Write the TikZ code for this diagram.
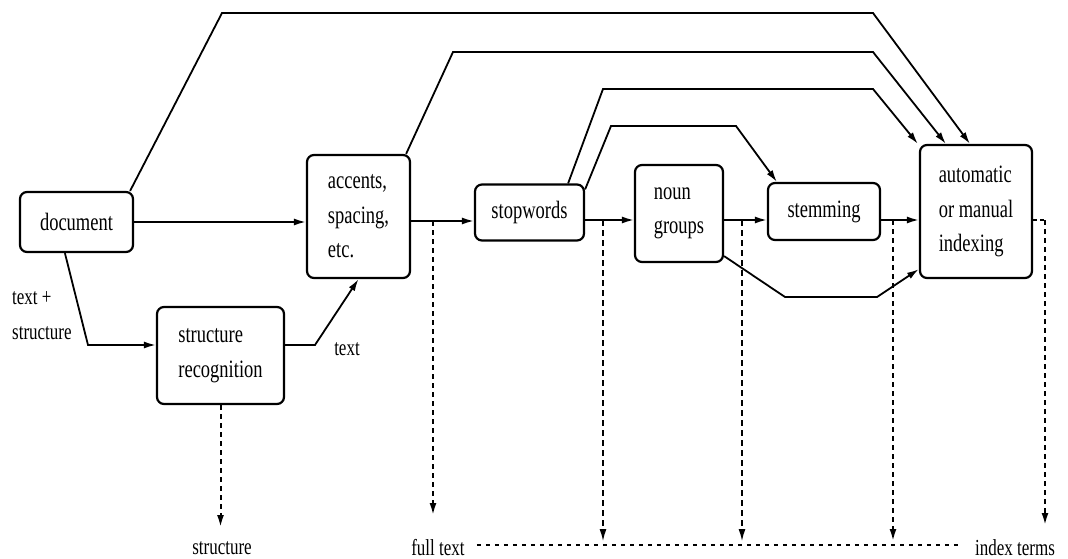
\documentclass[tikz,border=0pt]{standalone}
\usepackage{fontspec}
\setmainfont{Liberation Serif}
\usetikzlibrary{arrows.meta,calc}
\newcommand{\vt}[1]{\scalebox{1}[1.35]{#1}}
\begin{document}
\begin{tikzpicture}[x=1pt,y=-1pt,
 box/.style={draw,line width=2.2pt,rounded corners=7pt,inner sep=0pt,align=left,font=\fontsize{18.5}{34.5}\selectfont},
 conn/.style={line width=1.8pt},
 arr/.style={conn,-{Latex[length=12pt,width=7pt]}},
 dsh/.style={line width=2pt,dash pattern=on 5pt off 4pt,-{Latex[length=12pt,width=7pt]}},
 dshthin/.style={line width=1.3pt,dash pattern=on 6pt off 4pt,-{Latex[length=12pt,width=7pt]}},
 dotline/.style={line width=2pt,dash pattern=on 4pt off 5pt},
 lbl/.style={font=\fontsize{17}{35}\selectfont,inner sep=0pt}]
\useasboundingbox (0,0) rectangle (1068,559);

% boxes
\node[box,minimum width=113pt,minimum height=60pt] (doc) at (76.5,222) {\vt{document}};
\node[box,minimum width=103pt,minimum height=123pt] (acc) at (358.5,216.5) {\vt{accents,}\\\vt{spacing,}\\\vt{etc.}};
\node[box,minimum width=109pt,minimum height=56pt] (stop) at (529.5,212.5) {\vt{stopwords}};
\node[box,minimum width=88pt,minimum height=97pt] (noun) at (679,213.5) {\vt{noun}\\\vt{groups}};
\node[box,minimum width=112pt,minimum height=57pt] (stem) at (824,211.5) {\vt{stemming}};
\node[box,minimum width=112pt,minimum height=133pt] (auto) at (976,211.5) {\vt{automatic}\\\vt{or manual}\\\vt{indexing}};
\node[box,minimum width=127pt,minimum height=97pt] (sr) at (220.5,355.5) {\vt{structure}\\\vt{recognition}};

% labels
\node[lbl,align=left,anchor=west] (ts) at (12,316) {\vt{text +}\\\vt{structure}};
\node[lbl] (tx) at (347,349) {\vt{text}};
\node[lbl] (os) at (222,548) {\vt{structure}};
\node[lbl] (ft) at (438,548) {\vt{full text}};
\node[lbl] (it) at (1015,548) {\vt{index terms}};

% helper coordinates
\coordinate (f) at (0,221);
\coordinate (g) at (0,220);
\coordinate (h) at (0,345);
\coordinate (d1) at (433,221);
\coordinate (d1e) at (433,515);
\coordinate (d2) at (603,220);
\coordinate (d2e) at (603,541);
\coordinate (d3) at (742,220);
\coordinate (d3e) at (742,541);
\coordinate (d4) at (893,220);
\coordinate (d4e) at (893,541);
\coordinate (d5) at (1045,220);
\coordinate (d5e) at (1045,525);
\coordinate (se) at (220.5,527);

% main flow
\draw[arr] (doc.east) -- (doc.east -| acc.west);
\draw[arr] (acc.east |- f) -- (stop.west |- f);
\draw[arr] (stop.east |- g) -- (noun.west |- g);
\draw[arr] (noun.east |- g) -- (stem.west |- g);
\draw[arr] (stem.east |- g) -- (auto.west |- g);

% bypass lines over the top
\draw[arr] ($(doc.north east)+(-4,0)$) -- (222,13) -- (873,13) -- ($(auto.north)+(-6,0)$);
\draw[arr] ($(acc.north east)+(-5,0)$) -- (453,52) -- (873,52) -- ($(auto.north west)+(27,0)$);
\draw[arr] ($(stop.north east)+(-17,0)$) -- (603,89) -- (873,89) -- ($(auto.north west)+(-1,0)$);
\draw[arr] ($(stop.north east)+(0,6)$) -- (611,126) -- (736,126) -- ($(stem.north west)+(10,0)$);
\draw[arr] ($(noun.south east)+(0,-7)$) -- (785,297) -- (877,297) -- ($(auto.south west)+(0,-10)$);

% lower path
\draw[arr] ($(doc.south west)+(46,0)$) -- (88,345) -- (sr.west |- h);
\draw[arr] (sr.east |- h) -- (315,345) -- (acc.south);

% dashed outputs
\draw[dsh] (sr.south) -- (se);
\draw[dsh] (d1) -- (d1e);
\draw[dshthin] (d2) -- (d2e);
\draw[dshthin] (d3) -- (d3e);
\draw[dsh] (d4) -- (d4e);
\draw[conn,dash pattern=on 4pt off 3pt] (auto.east |- g) -- (d5);
\draw[dsh] (d5) -- (d5e);

% dotted line between full text and index terms
\draw[dotline] (ft.east) ++(12,-3) coordinate (dl) (dl) -- ($(it.west)+(-16,-3)$);
\end{tikzpicture}
\end{document}
